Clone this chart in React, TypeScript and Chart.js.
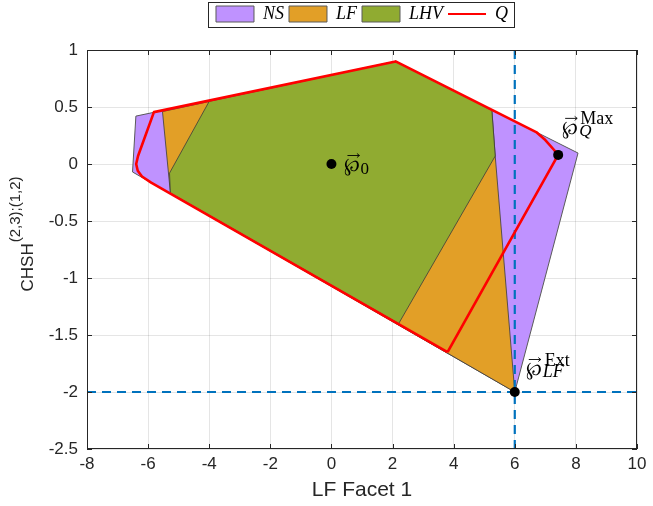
import React, { useEffect, useRef } from 'react';
import { Chart, registerables } from 'chart.js';

Chart.register(...registerables);

// ---------- data ----------
const xTicks = [-8, -6, -4, -2, 0, 2, 4, 6, 8, 10];
const yTicks = [-2.5, -2, -1.5, -1, -0.5, 0, 0.5, 1];

const nsX = [-6.4, 2.1, 8.07, 6, -6.51];
const nsY = [0.42, 0.9, 0.096, -2, -0.07];

const lfX = [-5.53, 2.1, 5.25, 5.36, 6, -5.27];
const lfY = [0.46, 0.9, 0.47, 0.07, -2, -0.255];

const lhvX = [-4.0, 2.1, 5.25, 5.36, 2.2, -5.27, -5.3];
const lhvY = [0.55, 0.9, 0.47, 0.07, -1.4, -0.255, -0.08];

const qX = [3.8, 7.42, 7.28, 7.0, 6.7, 2.1, -5.81, -6.33, -6.39, -6.34, -6.2, -5.9, 3.8];
const qY = [-1.65, 0.08, 0.125, 0.21, 0.28, 0.9, 0.455, 0.07, 0.0, -0.06, -0.11, -0.164, -1.65];

const pointX = [0, 7.42, 6];
const pointY = [0, 0.08, -2];

const guideX = [6];
const guideY = [-2];

const legendLabels = ['NS', 'LF', 'LHV', 'Q'];
const xTitle = 'LF Facet 1';
const yTitleMain = 'CHSH';
const yTitleSup = '(2,3);(1,2)';

// ---------- styles ----------
const NS_COLOR = '#BF92FF';
const LF_COLOR = '#E29F27';
const LHV_COLOR = '#90AB31';
const Q_COLOR = '#FF0000';
const GUIDE_COLOR = '#0072BD';
const AXIS_COLOR = '#262626';

const closed = (xs: number[], ys: number[]) => {
  const p = xs.map((x, i) => ({ x, y: ys[i] }));
  p.push({ ...p[0] });
  return p;
};
const pts = (xs: number[], ys: number[]) => xs.map((x, i) => ({ x, y: ys[i] }));

const SERIF = '"Liberation Serif", "DejaVu Serif", serif';
const SANS = '"Liberation Sans", Arial, sans-serif';

function drawVecP(ctx: CanvasRenderingContext2D, x: number, base: number, size: number) {
  ctx.font = `${size}px "DejaVu Serif", "Liberation Serif", serif`;
  ctx.textBaseline = 'alphabetic';
  ctx.textAlign = 'left';
  ctx.fillText('\u2118', x, base);
  const w = ctx.measureText('\u2118').width;
  const ay = base - 15.5;
  const x0 = x + 3;
  const x1 = x + w - 1;
  ctx.beginPath();
  ctx.lineWidth = 0.9;
  ctx.moveTo(x0, ay);
  ctx.lineTo(x1, ay);
  ctx.moveTo(x1 - 2.5, ay - 2);
  ctx.lineTo(x1, ay);
  ctx.lineTo(x1 - 2.5, ay + 2);
  ctx.stroke();
  return w;
}

const decorPlugin = {
  id: 'decor',
  beforeInit(chart: any) {
    const legend = chart.legend;
    if (legend) {
      const fit = legend.fit.bind(legend);
      legend.fit = function () {
        fit();
        this.height = 50;
      };
    }
  },
  afterDatasetsDraw(chart: any) {
    const { ctx, chartArea: a, scales } = chart;
    const xs = scales.x;
    const ys = scales.y;
    ctx.save();
    // axes box
    ctx.strokeStyle = AXIS_COLOR;
    ctx.lineWidth = 1;
    ctx.strokeRect(a.left + 0.5, a.top + 0.5, a.right - a.left - 1, a.bottom - a.top - 1);
    // inside ticks
    ctx.beginPath();
    const tl = 5;
    xTicks.forEach((v) => {
      const px = Math.round(xs.getPixelForValue(v)) + 0.5;
      ctx.moveTo(px, a.bottom);
      ctx.lineTo(px, a.bottom - tl);
      ctx.moveTo(px, a.top);
      ctx.lineTo(px, a.top + tl);
    });
    yTicks.forEach((v) => {
      const py = Math.round(ys.getPixelForValue(v)) + 0.5;
      ctx.moveTo(a.left, py);
      ctx.lineTo(a.left + tl, py);
      ctx.moveTo(a.right, py);
      ctx.lineTo(a.right - tl, py);
    });
    ctx.stroke();

    // point labels
    ctx.fillStyle = '#000';
    ctx.strokeStyle = '#000';
    const p0x = xs.getPixelForValue(pointX[0]);
    const p0y = ys.getPixelForValue(pointY[0]);
    let w = drawVecP(ctx, p0x + 13, p0y + 7, 19);
    ctx.font = `17px ${SERIF}`;
    ctx.fillText('0', p0x + 13 + w, p0y + 10);

    const p1x = xs.getPixelForValue(pointX[1]);
    const p1y = ys.getPixelForValue(pointY[1]);
    w = drawVecP(ctx, p1x + 4, p1y - 21, 19);
    ctx.font = `18px ${SERIF}`;
    ctx.fillText('Max', p1x + 4 + w + 2, p1y - 31);
    ctx.font = `italic 17px ${SERIF}`;
    ctx.fillText('Q', p1x + 4 + w + 1, p1y - 19);

    const p2x = xs.getPixelForValue(pointX[2]);
    const p2y = ys.getPixelForValue(pointY[2]);
    w = drawVecP(ctx, p2x + 11, p2y - 17, 19);
    ctx.font = `18px ${SERIF}`;
    ctx.fillText('Ext', p2x + 11 + w + 3, p2y - 26);
    ctx.font = `italic 18px ${SERIF}`;
    ctx.fillText('LF', p2x + 11 + w + 1, p2y - 15);
    ctx.restore();
  },
  afterDraw(chart: any) {
    const { ctx, chartArea: a } = chart;
    ctx.save();
    // legend frame
    const hb = chart.legend && chart.legend.legendHitBoxes;
    if (hb && hb.length) {
      const l = hb[0].left - 8;
      const last = hb[hb.length - 1];
      const r = last.left + last.width + 6;
      ctx.strokeStyle = '#262626';
      ctx.lineWidth = 1;
      ctx.strokeRect(Math.round(l) + 0.5, 2.5, Math.round(r - l), 25);
    }
    // y-axis title
    const cy = (a.top + a.bottom) / 2 - 15;
    ctx.translate(33, cy);
    ctx.rotate(-Math.PI / 2);
    ctx.fillStyle = AXIS_COLOR;
    ctx.textBaseline = 'alphabetic';
    ctx.textAlign = 'left';
    ctx.font = `17px ${SANS}`;
    const mw = ctx.measureText(yTitleMain).width;
    ctx.font = `15px ${SANS}`;
    const sw = ctx.measureText(yTitleSup).width;
    const start = -(mw + sw) / 2;
    ctx.font = `17px ${SANS}`;
    ctx.fillText(yTitleMain, start, 0);
    ctx.font = `15px ${SANS}`;
    ctx.fillText(yTitleSup, start + mw + 1, -13);
    ctx.restore();
  },
};

export default function App() {
  const ref = useRef<HTMLCanvasElement | null>(null);

  useEffect(() => {
    document.body.style.margin = '0';
    if (!ref.current) return;
    const chart = new Chart(ref.current, {
      type: 'scatter',
      data: {
        datasets: [
          {
            label: 'points',
            data: pts(pointX, pointY),
            showLine: false,
            pointRadius: 5,
            pointBackgroundColor: '#000',
            pointBorderColor: '#000',
            pointBorderWidth: 0,
            order: 0,
          } as any,
          {
            label: 'Q',
            data: pts(qX, qY),
            showLine: true,
            fill: false,
            borderColor: Q_COLOR,
            borderWidth: 2.6,
            borderJoinStyle: 'round',
            pointRadius: 0,
            order: 1,
          },
          {
            label: 'guideV',
            data: [
              { x: guideX[0], y: yTicks[0] },
              { x: guideX[0], y: yTicks[yTicks.length - 1] },
            ],
            showLine: true,
            fill: false,
            borderColor: GUIDE_COLOR,
            borderWidth: 2.2,
            borderDash: [9, 6],
            pointRadius: 0,
            order: 2,
          },
          {
            label: 'guideH',
            data: [
              { x: xTicks[0], y: guideY[0] },
              { x: xTicks[xTicks.length - 1], y: guideY[0] },
            ],
            showLine: true,
            fill: false,
            borderColor: GUIDE_COLOR,
            borderWidth: 2.2,
            borderDash: [9, 6],
            pointRadius: 0,
            order: 2,
          },
          {
            label: 'LHV',
            data: closed(lhvX, lhvY),
            showLine: true,
            fill: 'shape',
            backgroundColor: LHV_COLOR,
            borderColor: '#3b3b3b',
            borderWidth: 0.8,
            pointRadius: 0,
            order: 3,
          },
          {
            label: 'LF',
            data: closed(lfX, lfY),
            showLine: true,
            fill: 'shape',
            backgroundColor: LF_COLOR,
            borderColor: '#3b3b3b',
            borderWidth: 0.8,
            pointRadius: 0,
            order: 4,
          },
          {
            label: 'NS',
            data: closed(nsX, nsY),
            showLine: true,
            fill: 'shape',
            backgroundColor: NS_COLOR,
            borderColor: '#5a5a5a',
            borderWidth: 1,
            pointRadius: 0,
            order: 5,
          },
        ],
      },
      options: {
        responsive: true,
        maintainAspectRatio: false,
        animation: false,
        events: [],
        layout: { padding: { left: 0, right: 16, top: 0, bottom: 0 } },
        scales: {
          x: {
            type: 'linear',
            min: xTicks[0],
            max: xTicks[xTicks.length - 1],
            afterBuildTicks: (s: any) => {
              s.ticks = xTicks.map((v) => ({ value: v }));
            },
            afterFit: (s: any) => {
              s.height = 57;
            },
            ticks: {
              padding: 5,
              color: AXIS_COLOR,
              font: { family: SANS, size: 17 },
              callback: (v: any) => String(v),
            },
            grid: { color: 'rgba(38,38,38,0.12)', drawTicks: false },
            border: { display: false },
            title: {
              display: true,
              text: xTitle,
              color: AXIS_COLOR,
              font: { family: SANS, size: 21 },
              padding: { top: 0, bottom: 3 },
            },
          },
          y: {
            type: 'linear',
            min: yTicks[0],
            max: yTicks[yTicks.length - 1],
            afterBuildTicks: (s: any) => {
              s.ticks = yTicks.map((v) => ({ value: v }));
            },
            afterFit: (s: any) => {
              s.width = 87;
            },
            ticks: {
              padding: 9,
              color: AXIS_COLOR,
              font: { family: SANS, size: 17 },
              callback: (v: any) => String(v),
            },
            grid: { color: 'rgba(38,38,38,0.12)', drawTicks: false },
            border: { display: false },
          },
        },
        plugins: {
          tooltip: { enabled: false },
          legend: {
            display: true,
            position: 'top',
            fullSize: false,
            labels: {
              usePointStyle: true,
              pointStyleWidth: 38,
              boxHeight: 16,
              padding: 5,
              color: '#000',
              font: { family: SERIF, size: 18, style: 'italic' },
              generateLabels: () =>
                legendLabels.map((t, i) => ({
                  text: t,
                  fillStyle: [NS_COLOR, LF_COLOR, LHV_COLOR, 'rgba(0,0,0,0)'][i],
                  strokeStyle: ['#5a5a5a', '#5a5a5a', '#5a5a5a', Q_COLOR][i],
                  lineWidth: i === 3 ? 2 : 1,
                  pointStyle: i === 3 ? 'line' : 'rect',
                  hidden: false,
                  datasetIndex: 6 - i,
                  fontColor: '#000',
                })),
            },
          },
        },
      },
      plugins: [decorPlugin],
    } as any);
    return () => chart.destroy();
  }, []);

  return (
    <div style={{ width: 653, height: 506, position: 'relative' }}>
      <canvas ref={ref} />
    </div>
  );
}
